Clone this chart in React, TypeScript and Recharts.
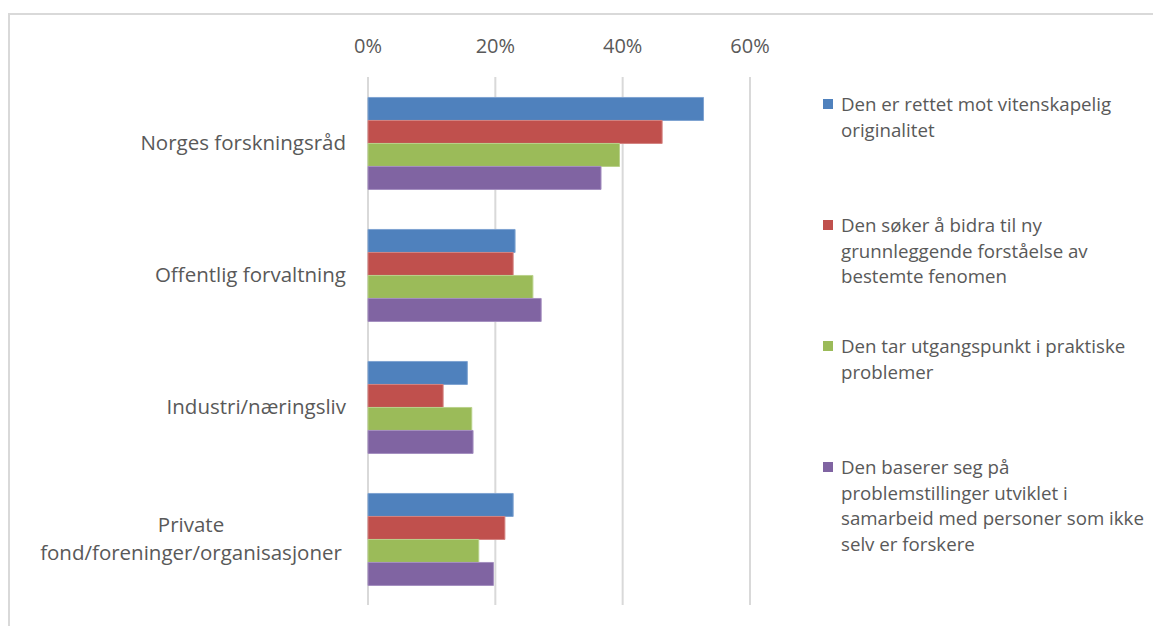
import React from 'react';
import { BarChart, Bar, XAxis, YAxis, CartesianGrid } from 'recharts';

const categories = [
  'Norges forskningsråd',
  'Offentlig forvaltning',
  'Industri/næringsliv',
  'Private fond/foreninger/organisasjoner',
];

const originalitet = [0.527, 0.231, 0.156, 0.228];
const forstaelse = [0.462, 0.228, 0.118, 0.215];
const praktiske = [0.395, 0.259, 0.163, 0.174];
const samarbeid = [0.366, 0.272, 0.165, 0.197];

const xTicks = [0, 0.2, 0.4, 0.6];

const seriesNames = [
  'Den er rettet mot vitenskapelig originalitet',
  'Den søker å bidra til ny grunnleggende forståelse av bestemte fenomen',
  'Den tar utgangspunkt i praktiske problemer',
  'Den baserer seg på problemstillinger utviklet i samarbeid med personer som ikke selv er forskere',
];

// how the legend text wraps in the original
const legendLines = [
  ['Den er rettet mot vitenskapelig', 'originalitet'],
  ['Den søker å bidra til ny', 'grunnleggende forståelse av', 'bestemte fenomen'],
  ['Den tar utgangspunkt i praktiske', 'problemer'],
  ['Den baserer seg på', 'problemstillinger utviklet i', 'samarbeid med personer som ikke', 'selv er forskere'],
];

const colors = ['#4F81BD', '#C0504D', '#9BBB59', '#8064A2'];
const outlines = ['#7FA3D1', '#D48381', '#B9D18A', '#A58FC0'];

const keys = ['s1', 's2', 's3', 's4'];

const data = categories.map((c, i) => ({
  name: c,
  s1: originalitet[i],
  s2: forstaelse[i],
  s3: praktiske[i],
  s4: samarbeid[i],
}));

const FONT = '"Open Sans", sans-serif';
const TEXT = '#595959';
const CAT_SIZE = 20.5;

const CategoryTick = (props: any) => {
  const { x, y, payload } = props;
  const label: string = payload.value;
  if (label.startsWith('Private ')) {
    // wrapped label, both lines centred on the longer one
    return (
      <g>
        <text x={x - 155} y={y - 14} dy="0.35em" textAnchor="middle" fill={TEXT} fontSize={CAT_SIZE} fontFamily={FONT}>
          Private
        </text>
        <text x={x - 155} y={y + 14} dy="0.35em" textAnchor="middle" fill={TEXT} fontSize={CAT_SIZE} fontFamily={FONT}>
          fond/foreninger/organisasjoner
        </text>
      </g>
    );
  }
  return (
    <text x={x} y={y} dy="0.35em" textAnchor="end" fill={TEXT} fontSize={CAT_SIZE} fontFamily={FONT}>
      {label}
    </text>
  );
};

const ChartLegend = () => (
  <div style={{ position: 'absolute', left: 823, top: 91, fontFamily: FONT, fontSize: 18.7, color: TEXT }}>
    {legendLines.map((lines, i) => (
      <div key={i} style={{ position: 'relative', height: 121, paddingLeft: 18 }} title={seriesNames[i]}>
        <div
          style={{
            position: 'absolute',
            left: 0,
            top: 8,
            width: 10,
            height: 10,
            background: colors[i],
          }}
        />
        {lines.map((l, j) => (
          <div key={j} style={{ lineHeight: '25.5px', whiteSpace: 'nowrap' }}>
            {l}
          </div>
        ))}
      </div>
    ))}
  </div>
);

const App: React.FC = () => {
  return (
    <div style={{ position: 'absolute', left: 0, top: 0, width: 1153, height: 626, background: '#fff', overflow: 'hidden' }}>
      <div
        style={{
          position: 'absolute',
          left: 8,
          top: 13,
          width: 1200,
          height: 700,
          borderTop: '2px solid #D9D9D9',
          borderLeft: '2px solid #D9D9D9',
        }}
      />
      <div style={{ position: 'absolute', left: 0, top: 0 }}>
        <BarChart
          width={1153}
          height={626}
          data={data}
          layout="vertical"
          margin={{ top: 0, right: 403, bottom: 21, left: 8 }}
          barCategoryGap="15.5%"
          barGap={0}
        >
          <CartesianGrid horizontal={false} stroke="#D9D9D9" strokeWidth={2} />
          <XAxis
            type="number"
            orientation="top"
            domain={[0, 0.6]}
            ticks={xTicks}
            height={77}
            axisLine={false}
            tickLine={false}
            tickSize={0}
            tickMargin={24}
            tickFormatter={(v: number) => `${Math.round(v * 100)}%`}
            tick={{ fill: TEXT, fontSize: 20, fontFamily: FONT }}
          />
          <YAxis
            type="category"
            dataKey="name"
            width={360}
            axisLine={false}
            tickLine={false}
            tickSize={0}
            tickMargin={22}
            tick={<CategoryTick />}
          />
          {keys.map((k, i) => (
            <Bar
              key={k}
              dataKey={k}
              name={seriesNames[i]}
              fill={colors[i]}
              stroke={outlines[i]}
              strokeWidth={1}
              isAnimationActive={false}
            />
          ))}
        </BarChart>
      </div>
      <ChartLegend />
    </div>
  );
};

export default App;
